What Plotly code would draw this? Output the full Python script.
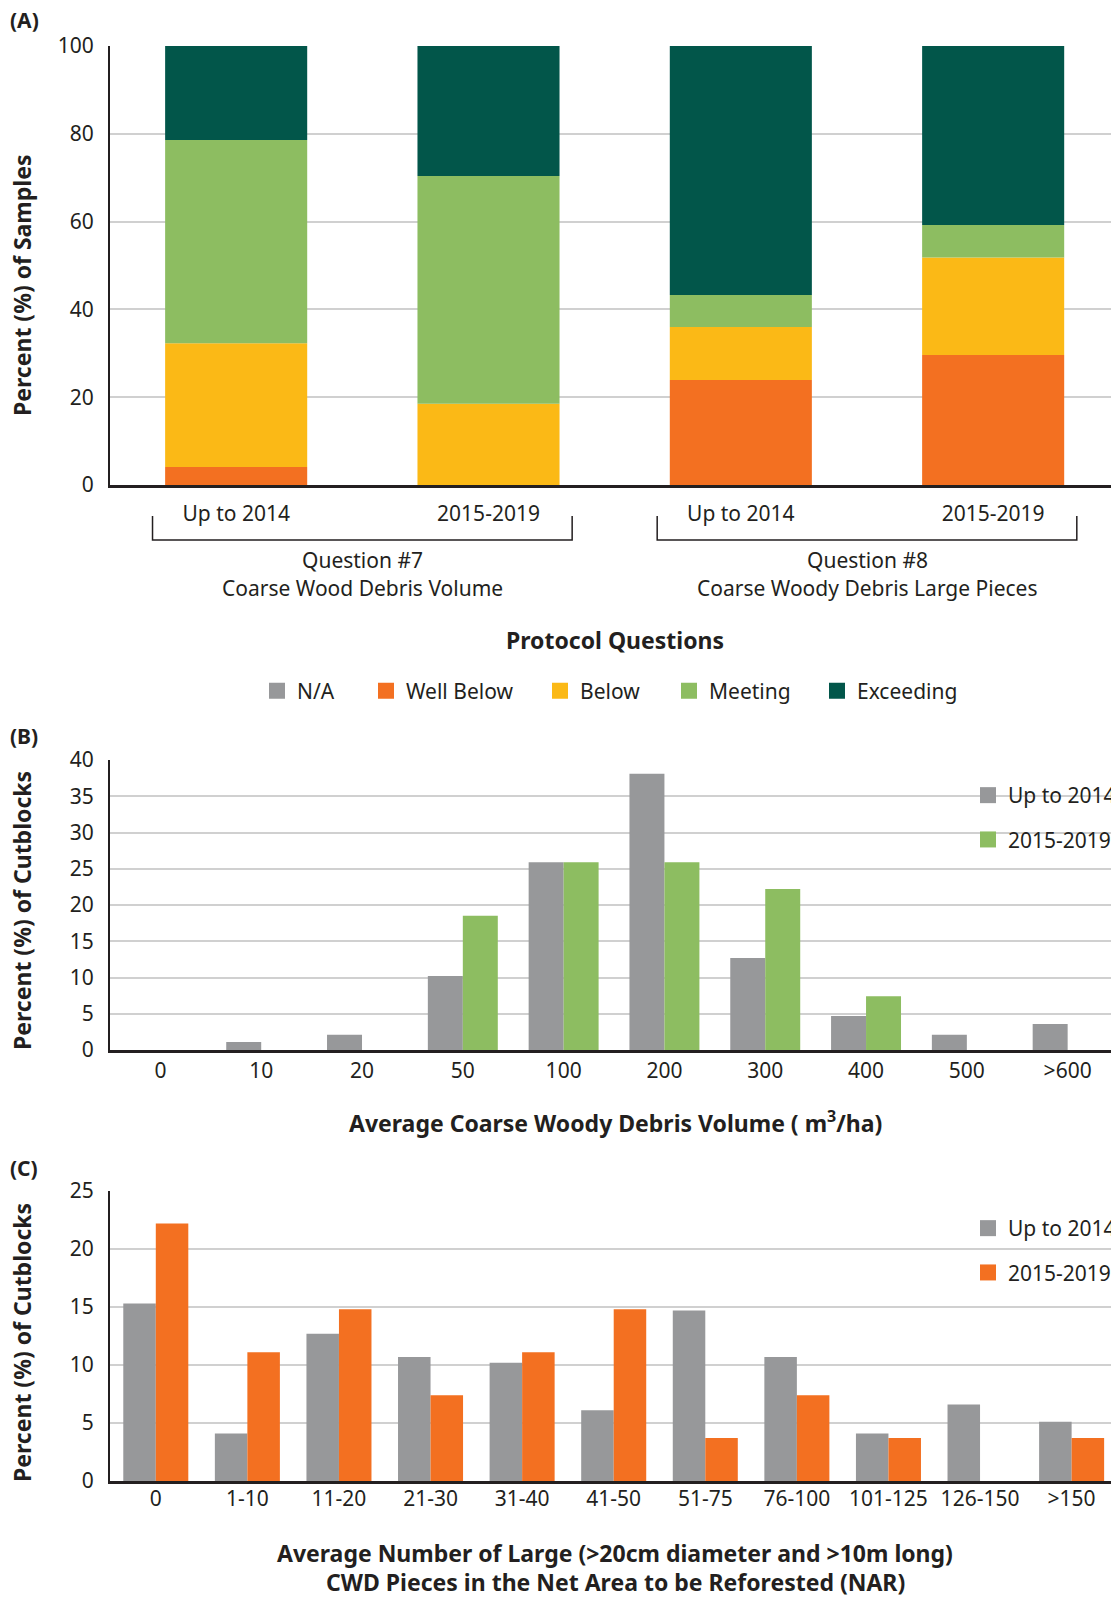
import numpy as np
import plotly.graph_objects as go

W, H = 1111, 1598
FONT = "Noto Sans"
INK = "#231f20"
GRID = "#d0d0d0"

C_NA = "#97989a"
C_WELL_BELOW = "#f37021"
C_BELOW = "#fbb916"
C_MEETING = "#8dbd61"
C_EXCEEDING = "#02564a"


def fx(px):
    return px / W


def fy(px):
    return 1 - px / H


# ---------------- (A) protocol question ratings ----------------
periods_a = ["Up to 2014", "2015-2019", "Up to 2014", "2015-2019"]
question_ids = ["Question #7", "Question #8"]
question_names = ["Coarse Wood Debris Volume", "Coarse Woody Debris Large Pieces"]
rating_names = ["N/A", "Well Below", "Below", "Meeting", "Exceeding"]
na_a = [0, 0, 0, 0]
well_below_a = [4.1, 0.0, 23.9, 29.6]
below_a = [28.2, 18.5, 12.1, 22.2]
meeting_a = [46.3, 51.9, 7.3, 7.4]
exceeding_a = [21.4, 29.6, 56.7, 40.8]

# ---------------- (B) CWD volume distribution ----------------
volume_classes = ["0", "10", "20", "50", "100", "200", "300", "400", "500", ">600"]
vol_up_to_2014 = [0, 1.1, 2.1, 10.2, 25.9, 38.1, 12.7, 4.7, 2.1, 3.6]
vol_2015_2019 = [0, 0, 0, 18.5, 25.9, 25.9, 22.2, 7.4, 0, 0]

# ---------------- (C) large CWD pieces distribution ----------------
piece_classes = ["0", "1-10", "11-20", "21-30", "31-40", "41-50", "51-75",
                 "76-100", "101-125", "126-150", ">150"]
pcs_up_to_2014 = [15.3, 4.1, 12.7, 10.7, 10.2, 6.1, 14.7, 10.7, 4.1, 6.6, 5.1]
pcs_2015_2019 = [22.2, 11.1, 14.8, 7.4, 11.1, 14.8, 3.7, 7.4, 3.7, 0, 3.7]

period_names = ["Up to 2014", "2015-2019"]

fig = go.Figure()

# stacked columns for panel A (bottom-up: well below, below, meeting, exceeding)
xa = list(range(len(periods_a)))
stack_series = [na_a, well_below_a, below_a, meeting_a, exceeding_a]
stack_colors = [C_NA, C_WELL_BELOW, C_BELOW, C_MEETING, C_EXCEEDING]
bases = np.cumsum([np.zeros(len(xa))] + [np.array(s, float) for s in stack_series[:-1]], axis=0)
BW_A = 0.563
for name, vals, base, col in zip(rating_names, stack_series, bases, stack_colors):
    fig.add_trace(go.Bar(x=xa, y=vals, base=base, name=name, marker_color=col,
                         marker_line_width=0, width=BW_A, offset=-BW_A / 2,
                         xaxis="x", yaxis="y", showlegend=False))

# grouped columns for panels B and C
BW_B = 0.347
fig.add_trace(go.Bar(x=volume_classes, y=vol_up_to_2014, name=period_names[0],
                     marker_color=C_NA, marker_line_width=0, width=BW_B, offset=-BW_B,
                     xaxis="x2", yaxis="y2", showlegend=False))
fig.add_trace(go.Bar(x=volume_classes, y=vol_2015_2019, name=period_names[1],
                     marker_color=C_MEETING, marker_line_width=0, width=BW_B, offset=0,
                     xaxis="x2", yaxis="y2", showlegend=False))

BW_C = 0.355
fig.add_trace(go.Bar(x=piece_classes, y=pcs_up_to_2014, name=period_names[0],
                     marker_color=C_NA, marker_line_width=0, width=BW_C, offset=-BW_C,
                     xaxis="x3", yaxis="y3", showlegend=False))
fig.add_trace(go.Bar(x=piece_classes, y=pcs_2015_2019, name=period_names[1],
                     marker_color=C_WELL_BELOW, marker_line_width=0, width=BW_C, offset=0,
                     xaxis="x3", yaxis="y3", showlegend=False))


# legend swatches (square markers)
def swatch(name, color, legend, group):
    fig.add_trace(go.Scatter(x=[None], y=[None], mode="markers", name=name,
                             marker=dict(symbol="square", size=16, color=color),
                             legend=legend, legendgroup=group, xaxis="x", yaxis="y",
                             hoverinfo="skip"))


# panel A key: one single-entry legend per rating so each can sit at its own spot
rating_legends = ["legend", "legend4", "legend5", "legend6", "legend7"]
rating_key_x = [257, 366, 540, 669, 817]
for name, col, lg in zip(rating_names, stack_colors, rating_legends):
    swatch(name, col, lg, name)
for name, col in zip(period_names, [C_NA, C_MEETING]):
    swatch(name, col, "legend2", name)
for name, col in zip(period_names, [C_NA, C_WELL_BELOW]):
    swatch(name, col, "legend3", name)

tickfont = dict(family=FONT, size=21, color=INK)


def yaxis(domain, rng, dtick, anchor):
    return dict(domain=domain, range=rng, dtick=dtick, anchor=anchor,
                showgrid=True, gridcolor=GRID, gridwidth=2, zeroline=False,
                showline=True, linecolor=INK, linewidth=2, ticks="",
                ticklabelstandoff=10, tickfont=tickfont, fixedrange=True)


def xaxis(domain, rng, anchor, standoff, **kw):
    d = dict(domain=domain, range=rng, anchor=anchor, showgrid=False, zeroline=False,
             showline=True, linecolor=INK, linewidth=3, ticks="",
             ticklabelstandoff=standoff, tickfont=tickfont, fixedrange=True)
    d.update(kw)
    return d


x_dom = [fx(110), 1.0]
legend_common = dict(font=dict(family=FONT, size=21, color=INK), bgcolor="rgba(0,0,0,0)",
                     borderwidth=0, itemclick=False, itemdoubleclick=False)

layout_legends = {
    lg: dict(orientation="h", x=fx(lx), xanchor="left", y=fy(691), yanchor="middle",
             **legend_common)
    for lg, lx in zip(rating_legends, rating_key_x)
}

fig.update_layout(
    width=W, height=H,
    margin=dict(l=0, r=0, t=0, b=0, autoexpand=False),
    paper_bgcolor="white", plot_bgcolor="white",
    barmode="overlay",
    font=dict(family=FONT, size=21, color=INK),
    xaxis=xaxis(x_dom, [-0.5, 3.467], "y", 8, tickmode="array",
                tickvals=xa, ticktext=periods_a),
    yaxis=yaxis([fy(485), fy(46)], [0, 100], 20, "x"),
    xaxis2=xaxis(x_dom, [-0.5, 9.43], "y2", 0, type="category"),
    yaxis2=yaxis([fy(1050), fy(760)], [0, 40], 5, "x2"),
    xaxis3=xaxis(x_dom, [-0.5, 10.43], "y3", -3, type="category"),
    yaxis3=yaxis([fy(1481), fy(1191)], [0, 25], 5, "x3"),
    legend2=dict(orientation="v", x=fx(968), xanchor="left", y=fy(775), yanchor="top",
                 tracegroupgap=14, **legend_common),
    legend3=dict(orientation="v", x=fx(968), xanchor="left", y=fy(1208), yanchor="top",
                 tracegroupgap=14, **legend_common),
    **layout_legends,
)

# brackets grouping the periods under each protocol question
ext = BW_A / 2 + 0.05
for g in range(len(question_ids)):
    x0, x1 = 2 * g - ext, 2 * g + 1 + ext
    fig.add_shape(type="path", xref="x", yref="paper",
                  path=f"M {x0},{fy(516)} L {x0},{fy(540)} L {x1},{fy(540)} L {x1},{fy(516)}",
                  line=dict(color=INK, width=1.5))
    fig.add_annotation(x=2 * g + 0.5, xref="x", y=fy(560), yref="paper",
                       text=question_ids[g], showarrow=False,
                       font=dict(family=FONT, size=21, color=INK))
    fig.add_annotation(x=2 * g + 0.5, xref="x", y=fy(588), yref="paper",
                       text=question_names[g], showarrow=False,
                       font=dict(family=FONT, size=21, color=INK))

bold = dict(family=FONT, size=23, color=INK, weight="bold")
panel_font = dict(family=FONT, size=21, color=INK, weight="bold")
texts = [
    ("Protocol Questions", 615, 640, 0),
    ("Average Coarse Woody Debris Volume ( m<sup>3</sup>/ha)", 615, 1122, 0),
    ("Average Number of Large (>20cm diameter and >10m long)", 615, 1553, 0),
    ("CWD Pieces in the Net Area to be Reforested (NAR)", 615, 1582, 0),
    ("Percent (%) of Samples", 22, 286, -90),
    ("Percent (%) of Cutblocks", 22, 911, -90),
    ("Percent (%) of Cutblocks", 22, 1343, -90),
]
for txt, px, py, ang in texts:
    fig.add_annotation(x=fx(px), y=fy(py), xref="paper", yref="paper", text=txt,
                       showarrow=False, xanchor="center", yanchor="middle",
                       textangle=ang, font=bold)
for txt, py in [("(A)", 20), ("(B)", 736), ("(C)", 1168)]:
    fig.add_annotation(x=fx(8), y=fy(py), xref="paper", yref="paper", text=txt,
                       showarrow=False, xanchor="left", yanchor="middle", font=panel_font)

fig.write_html("out.html")
